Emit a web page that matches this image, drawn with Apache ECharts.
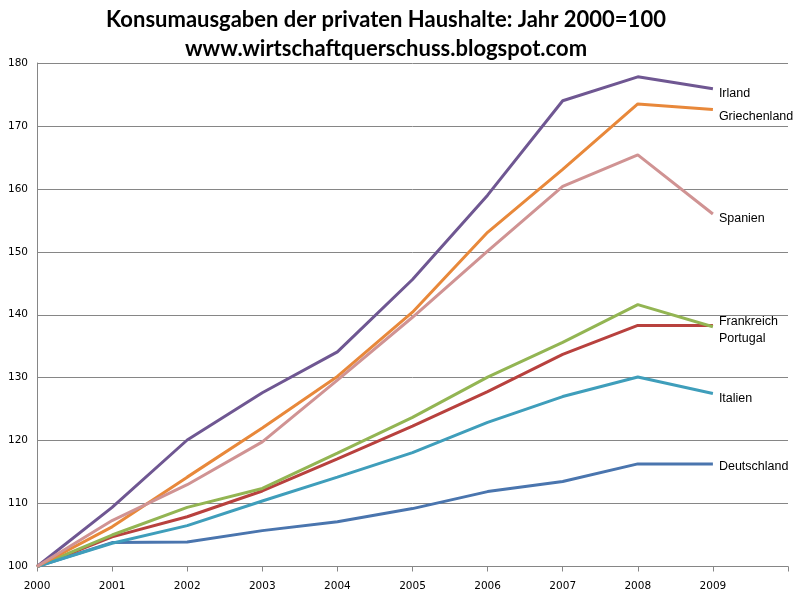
<!DOCTYPE html>
<html>
<head>
<meta charset="utf-8">
<script src="https://cdn.jsdelivr.net/npm/echarts@6/dist/echarts.min.js"></script>
<style>html,body{margin:0;padding:0;background:#fff}#c{width:796px;height:598px}</style>
</head>
<body>
<div id="c"></div>
<script>
var years = ['2000','2001','2002','2003','2004','2005','2006','2007','2008','2009',''];
var deutschland  = [100, 103.8, 103.9, 105.7, 107.1, 109.2, 111.9, 113.5, 116.3, 116.3];
var portugal     = [100, 104.7, 107.9, 112.0, 117.1, 122.3, 127.8, 133.7, 138.3, 138.3];
var frankreich   = [100, 105.0, 109.4, 112.4, 118.0, 123.7, 130.1, 135.6, 141.6, 138.1];
var irland       = [100, 109.4, 120.1, 127.6, 134.1, 145.6, 159.0, 174.0, 177.8, 175.9];
var italien      = [100, 103.7, 106.5, 110.4, 114.2, 118.1, 122.9, 127.0, 130.1, 127.5];
var griechenland = [100, 106.3, 114.2, 122.0, 130.2, 140.4, 153.1, 163.1, 173.5, 172.6];
var spanien      = [100, 107.3, 113.0, 119.8, 129.6, 139.6, 150.1, 160.4, 165.4, 156.0];

var seriesDefs = [
  {name:'Deutschland', data:deutschland, color:'#4A75AE', off:[0,3]},
  {name:'Portugal', data:portugal, color:'#B8413E', off:[0,13]},
  {name:'Frankreich', data:frankreich, color:'#93B553', off:[0,-5]},
  {name:'Irland', data:irland, color:'#6F5792', off:[0,5]},
  {name:'Italien', data:italien, color:'#3F9EBB', off:[0,5]},
  {name:'Griechenland', data:griechenland, color:'#E8883A', off:[0,7]},
  {name:'Spanien', data:spanien, color:'#D09393', off:[0,4]}
];

var chart = echarts.init(document.getElementById('c'), null, {renderer:'canvas'});
chart.setOption({
  backgroundColor:'#fff',
  animation:false,
  title:{
    text:'Konsumausgaben der privaten Haushalte: Jahr 2000=100\nwww.wirtschaftquerschuss.blogspot.com',
    left:381, top:0, textAlign:'center',
    textStyle:{fontFamily:'Lato', fontWeight:'bold', fontSize:22, lineHeight:29, color:'#000'}
  },
  grid:{left:37, right:8, top:63, bottom:31.5},
  xAxis:{
    type:'category', data:years, boundaryGap:false,
    axisLine:{lineStyle:{color:'#868686', width:1}},
    axisTick:{show:true, length:5, alignWithLabel:true, lineStyle:{color:'#868686'}},
    axisLabel:{color:'#000', fontFamily:'DejaVu Sans', fontSize:10.5, margin:14, interval:0},
    splitLine:{show:false}
  },
  yAxis:{
    type:'value', min:100, max:180, interval:10,
    axisLine:{show:true, lineStyle:{color:'#868686', width:1}},
    axisTick:{show:false},
    axisLabel:{color:'#000', fontFamily:'DejaVu Sans', fontSize:10.5, margin:9},
    splitLine:{lineStyle:{color:'#868686', width:1}}
  },
  series: seriesDefs.map(function(s){
    return {
      name:s.name, type:'line', data:s.data, symbol:'none',
      lineStyle:{color:s.color, width:3},
      itemStyle:{color:s.color},
      endLabel:{show:true, formatter:s.name, distance:6, offset:s.off,
        color:'#000', fontFamily:'Liberation Sans', fontSize:12.5}
    };
  })
});
</script>
</body>
</html>
